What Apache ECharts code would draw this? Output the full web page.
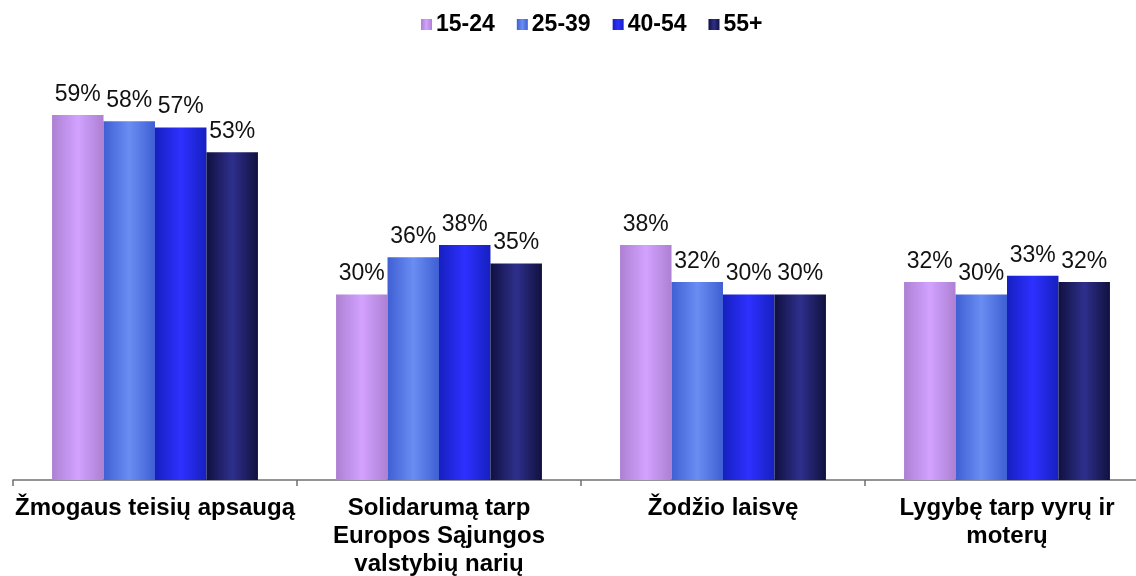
<!DOCTYPE html>
<html>
<head>
<meta charset="utf-8">
<script src="https://cdn.jsdelivr.net/npm/echarts@6/dist/echarts.min.js"></script>
<style>
  html, body { margin: 0; padding: 0; background: #fff; }
  #chart-container { width: 1136px; height: 576px; }
</style>
</head>
<body>
<div id="chart-container"></div>
<script>
// data
const categories = [
    'Žmogaus teisių apsaugą',
    'Solidarumą tarp\nEuropos Sąjungos\nvalstybių narių',
    'Žodžio laisvę',
    'Lygybę tarp vyrų ir\nmoterų'
];
const seriesNames = ['15-24', '25-39', '40-54', '55+'];
const age15_24 = [59, 30, 38, 32];
const age25_39 = [58, 36, 32, 30];
const age40_54 = [57, 38, 30, 33];
const age55plus = [53, 35, 30, 32];

// edge / centre colours for the cylinder-ish shading
const edgeColors = ['#ad80d3', '#3f5fd3', '#1620c0', '#10113f'];
const midColors = ['#d2a2ff', '#6a8df2', '#2e30ff', '#2e2f8c'];

const FONT = '"Liberation Sans", Arial, sans-serif';

function shade(i) {
    return new echarts.graphic.LinearGradient(0, 0, 1, 0, [
        {offset: 0, color: edgeColors[i]},
        {offset: 0.5, color: midColors[i]},
        {offset: 1, color: edgeColors[i]}
    ]);
}

const allValues = [age15_24, age25_39, age40_54, age55plus];

const chartDom = document.getElementById('chart-container');
const myChart = echarts.init(chartDom, null, {renderer: 'canvas'});

const series = allValues.map(function (vals, i) {
    return {
        name: seriesNames[i],
        type: 'bar',
        data: vals,
        barGap: '0%',
        barCategoryGap: '27.5%',
        itemStyle: {color: shade(i)},
        label: {
            show: true,
            position: 'top',
            distance: 9,
            formatter: '{c}%',
            color: '#111',
            fontFamily: FONT,
            fontSize: 23
        }
    };
});

const option = {
    animation: false,
    color: midColors,
    legend: {
        top: 8,
        left: 416,
        itemWidth: 11,
        itemHeight: 11,
        itemGap: 22,
        icon: 'rect',
        data: seriesNames.map(function (n, i) {
            return {name: n, itemStyle: {color: shade(i)}};
        }),
        textStyle: {
            fontFamily: FONT,
            fontSize: 23,
            fontWeight: 'bold',
            color: '#000',
            padding: [0, 0, 0, -1]
        }
    },
    grid: {
        left: 13,
        right: -13,
        top: 47,
        bottom: 96,
        outerBoundsMode: 'none'
    },
    xAxis: {
        type: 'category',
        data: categories,
        axisLine: {lineStyle: {color: '#707070', width: 1.5}},
        axisTick: {show: true, length: 6, lineStyle: {color: '#707070', width: 1.5}},
        axisLabel: {
            margin: 14,
            interval: 0,
            fontFamily: FONT,
            fontSize: 24,
            fontWeight: 'bold',
            color: '#000',
            lineHeight: 28
        }
    },
    yAxis: {
        type: 'value',
        min: 0,
        max: 70,
        show: false,
        splitLine: {show: false}
    },
    series: series
};

myChart.setOption(option, true);
</script>
</body>
</html>
